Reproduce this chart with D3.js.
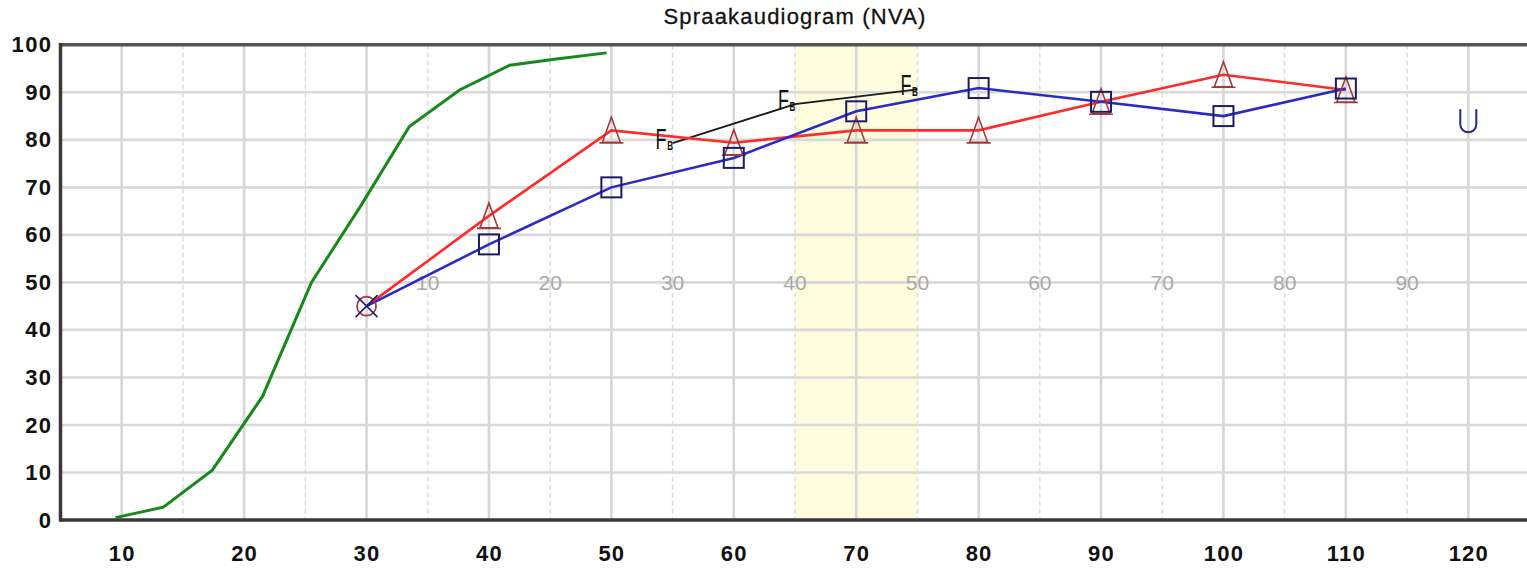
<!DOCTYPE html>
<html>
<head>
<meta charset="utf-8">
<script src="https://cdn.jsdelivr.net/npm/d3@7"></script>
<style>
  body { margin: 0; background: #fff; }
  svg { display: block; font-family: "Liberation Sans", Arial, sans-serif; }
</style>
</head>
<body>
<div id="chart"></div>
<script>
// data
const xTicks = [10, 20, 30, 40, 50, 60, 70, 80, 90, 100, 110, 120];
const xMinor = [15, 25, 35, 45, 55, 65, 75, 85, 95, 105, 115];
const yTicks = [0, 10, 20, 30, 40, 50, 60, 70, 80, 90, 100];
const secLabels = [10, 20, 30, 40, 50, 60, 70, 80, 90];
const band = [65, 75];

// normaal curve (groen)
const normX = [9.5, 13.4, 17.4, 21.5, 25.5, 29.5, 33.5, 37.6, 41.7, 45.5, 49.6];
const normY = [0.5, 2.7, 10.5, 26, 50, 66, 82.8, 90.5, 95.7, 97, 98.3];

// rood (driehoeken)
const redX = [30, 40, 50, 60, 70, 80, 90, 100, 110];
const redY = [45, 64, 82, 79.4, 82, 82, 88, 93.7, 90.5];

// blauw (vierkanten)
const blueX = [30, 40, 50, 60, 70, 80, 90, 100, 110];
const blueY = [45, 58, 70, 76.2, 86, 90.9, 88, 85, 90.8];

// vrij veld (F_B)
const ffX = [55, 65, 75];
const ffY = [79.3, 87.5, 90.6];

// U marker
const uX = [120];
const uY = [84];

const W = 1527, H = 569;
const svg = d3.select('#chart').append('svg').attr('width', W).attr('height', H);

const x = d3.scaleLinear().domain([5, 125]).range([60.5, 1529.5]);
const y = d3.scaleLinear().domain([0, 100]).range([520, 44.8]);

// gele band
svg.append('rect')
    .attr('x', x(band[0])).attr('y', y(100))
    .attr('width', x(band[1]) - x(band[0]))
    .attr('height', y(0) - y(100))
    .attr('fill', '#fdfddd');

// grid: dashed minor verticals
svg.append('g').selectAll('line').data(xMinor).join('line')
    .attr('x1', d => x(d)).attr('x2', d => x(d))
    .attr('y1', y(100)).attr('y2', y(0))
    .attr('stroke', '#dedede').attr('stroke-width', 1.5)
    .attr('stroke-dasharray', '5,3');

// grid: solid verticals
svg.append('g').selectAll('line').data(xTicks).join('line')
    .attr('x1', d => x(d)).attr('x2', d => x(d))
    .attr('y1', y(100)).attr('y2', y(0))
    .attr('stroke', '#d6d6d6').attr('stroke-width', 2.6);

// grid: horizontals
svg.append('g').selectAll('line').data(yTicks.slice(1, -1)).join('line')
    .attr('x1', x(5)).attr('x2', W)
    .attr('y1', d => y(d)).attr('y2', d => y(d))
    .attr('stroke', '#d9d9d9').attr('stroke-width', 2.6);

// secundaire schaal labels
svg.append('g').selectAll('text').data(secLabels).join('text')
    .attr('x', d => x(d + 25)).attr('y', y(50))
    .attr('dy', '0.36em')
    .attr('text-anchor', 'middle')
    .attr('font-size', 21)
    .attr('fill', '#a9a9a9')
    .text(d => d);

// randen
svg.append('line').attr('x1', x(5)).attr('x2', W).attr('y1', y(100)).attr('y2', y(100))
    .attr('stroke', '#555').attr('stroke-width', 3.5);
svg.append('line').attr('x1', x(5)).attr('x2', W).attr('y1', y(0)).attr('y2', y(0))
    .attr('stroke', '#383838').attr('stroke-width', 3.5);
svg.append('line').attr('x1', x(5)).attr('x2', x(5)).attr('y1', y(100) - 1.7).attr('y2', y(0) + 1.7)
    .attr('stroke', '#383838').attr('stroke-width', 3.5);

// lijnen
const line = d3.line().x(d => x(d[0])).y(d => y(d[1]));
const pts = (xs, ys) => xs.map((v, i) => [v, ys[i]]);

svg.append('path').datum(pts(normX, normY)).attr('d', line)
    .attr('fill', 'none').attr('stroke', '#17891b').attr('stroke-width', 3);
svg.append('path').datum(pts(ffX, ffY)).attr('d', line)
    .attr('fill', 'none').attr('stroke', '#1a1a1a').attr('stroke-width', 1.8);
svg.append('path').datum(pts(redX, redY)).attr('d', line)
    .attr('fill', 'none').attr('stroke', '#ff2a2a').attr('stroke-width', 2.6);
svg.append('path').datum(pts(blueX, blueY)).attr('d', line)
    .attr('fill', 'none').attr('stroke', '#2a2ac4').attr('stroke-width', 2.6);

// startpunt: cirkel met kruis
const start = svg.append('g').attr('transform', `translate(${x(redX[0])},${y(redY[0])})`);
start.append('circle').attr('r', 9.5).attr('fill', 'none').attr('stroke', '#a03c3c').attr('stroke-width', 1.8);
start.append('path').attr('d', 'M-11,-11L11,11M-11,11L11,-11').attr('stroke', '#222266').attr('stroke-width', 1.6);

// driehoeken
svg.append('g').selectAll('path').data(pts(redX, redY).slice(1)).join('path')
    .attr('transform', d => `translate(${x(d[0])},${y(d[1])})`)
    .attr('d', 'M0,-13L-9,12L9,12Z M-12,12.5L12,12.5')
    .attr('fill', 'none').attr('stroke', '#a33a3a').attr('stroke-width', 1.6);

// vierkanten
svg.append('g').selectAll('rect').data(pts(blueX, blueY).slice(1)).join('rect')
    .attr('x', d => x(d[0]) - 10).attr('y', d => y(d[1]) - 10)
    .attr('width', 20).attr('height', 20)
    .attr('fill', 'none').attr('stroke', '#1c1c66').attr('stroke-width', 2);

// F_B symbolen (smal getekend, één tekst met subscript)
const ffText = svg.append('g').selectAll('text').data(pts(ffX, ffY)).join('text')
    .attr('transform', d => `translate(${x(d[0])},${y(d[1])}) scale(0.62,1)`)
    .attr('x', -27.4).attr('y', 5.5)
    .attr('fill', '#111');
ffText.append('tspan').attr('font-size', 29).text('F');
ffText.append('tspan').attr('font-size', 13).attr('font-weight', 'bold')
    .attr('dx', 1).attr('dy', 1).text('B');

// U
svg.append('g').selectAll('path').data(pts(uX, uY)).join('path')
    .attr('transform', d => `translate(${x(d[0])},${y(d[1])})`)
    .attr('d', 'M-8,-11.5V3.5A8,8 0 0 0 8,3.5V-11.5')
    .attr('fill', 'none').attr('stroke', '#2a2a7a').attr('stroke-width', 2);

// assen
const yAxis = svg.append('g')
    .attr('transform', `translate(${x(5)},0)`)
    .call(d3.axisLeft(y).tickValues(yTicks).tickSize(0).tickPadding(8));
yAxis.select('.domain').remove();
yAxis.selectAll('text')
    .attr('font-family', '"Liberation Sans", Arial, sans-serif')
    .attr('font-size', 22).attr('font-weight', 'bold')
    .attr('letter-spacing', 1.4)
    .attr('fill', '#111');

const xAxis = svg.append('g')
    .attr('transform', `translate(0,${y(0)})`)
    .call(d3.axisBottom(x).tickValues(xTicks).tickSize(0).tickPadding(25));
xAxis.select('.domain').remove();
xAxis.selectAll('text')
    .attr('font-family', '"Liberation Sans", Arial, sans-serif')
    .attr('font-size', 22).attr('font-weight', 'bold')
    .attr('letter-spacing', 1.2)
    .attr('fill', '#111');

// titel
svg.append('text')
    .attr('x', (x(5) + x(125)) / 2).attr('y', 24)
    .attr('text-anchor', 'middle')
    .attr('font-size', 22)
    .attr('letter-spacing', 1.2)
    .attr('fill', '#111')
    .attr('stroke', '#111').attr('stroke-width', 0.3)
    .text('Spraakaudiogram (NVA)');
</script>
</body>
</html>
